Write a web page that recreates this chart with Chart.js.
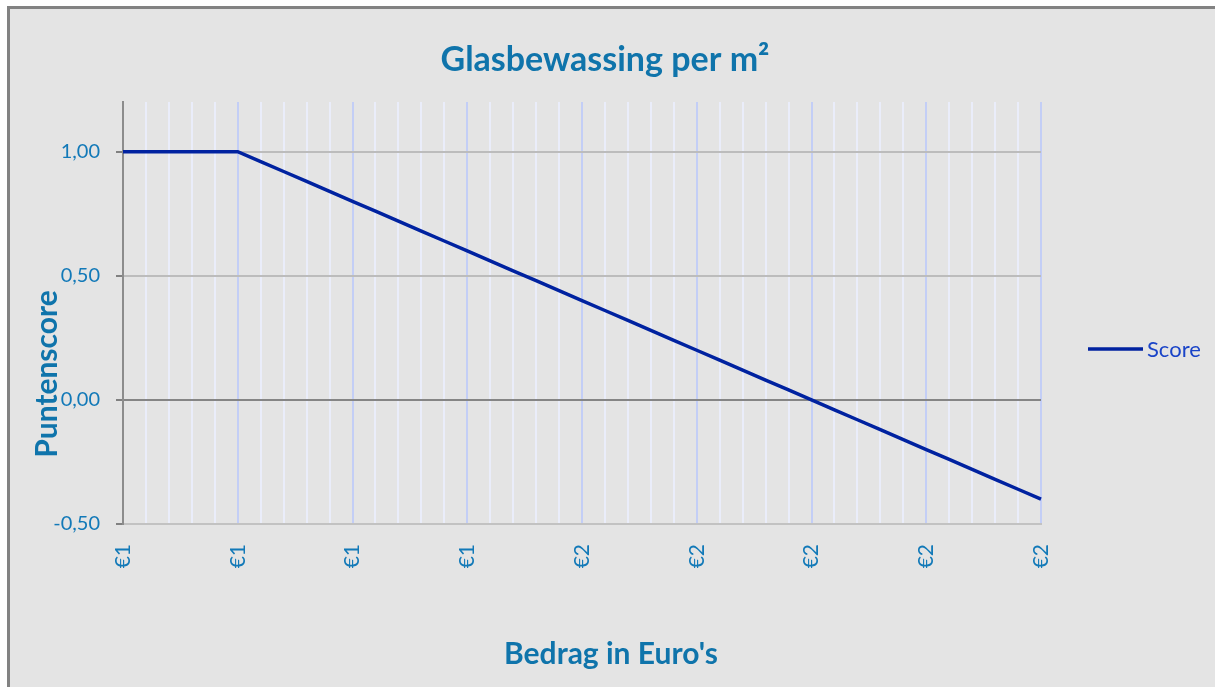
<!DOCTYPE html>
<html>
<head>
<meta charset="utf-8">
<script src="https://cdn.jsdelivr.net/npm/chart.js@4/dist/chart.umd.min.js"></script>
<style>
  html, body { margin: 0; padding: 0; background: #ffffff; }
  canvas { display: block; }
</style>
</head>
<body>
<canvas id="scoreChart" width="1215" height="687"></canvas>
<script>
// tick labels shown on the x-axis (every 5th category)
var tickLabels = ['€1', '€1', '€1', '€1', '€2', '€2', '€2', '€2', '€2'];
var stepsPerTick = 5;

// Score per category (41 points)
var scores = [
	1.00, 1.00, 1.00, 1.00, 1.00, 1.00, 0.96, 0.92, 0.88, 0.84,
	0.80, 0.76, 0.72, 0.68, 0.64, 0.60, 0.56, 0.52, 0.48, 0.44,
	0.40, 0.36, 0.32, 0.28, 0.24, 0.20, 0.16, 0.12, 0.08, 0.04,
	0.00, -0.04, -0.08, -0.12, -0.16, -0.20, -0.24, -0.28, -0.32, -0.36,
	-0.40
];

var seriesName = 'Score';
var chartTitle = 'Glasbewassing per m²';
var xTitle = "Bedrag in Euro's";
var yTitle = 'Puntenscore';

var labels = scores.map(function (v, i) {
	return i % stepsPerTick === 0 ? tickLabels[i / stepsPerTick] : '';
});

var fontFamily = 'Lato, "Open Sans", sans-serif';
var titleBlue = '#0f74ab';
var tickBlue = '#1279b8';
var lineBlue = '#0022a0';

// background, frame, titles and legend
var decor = {
	id: 'decor',
	beforeDraw: function (chart) {
		var ctx = chart.ctx;
		ctx.save();
		ctx.fillStyle = '#ffffff';
		ctx.fillRect(0, 0, chart.width, chart.height);
		ctx.fillStyle = '#828282';
		ctx.fillRect(7, 6, chart.width, chart.height);
		ctx.fillStyle = '#e4e4e4';
		ctx.fillRect(10, 9, chart.width, chart.height);
		ctx.restore();
	},
	afterDraw: function (chart) {
		var ctx = chart.ctx;
		var ds = chart.data.datasets[0];
		ctx.save();
		ctx.textAlign = 'center';
		ctx.textBaseline = 'middle';
		ctx.fillStyle = titleBlue;

		ctx.font = 'bold 34px ' + fontFamily;
		ctx.fillText(chartTitle, 605, 60);

		ctx.font = 'bold 30px ' + fontFamily;
		ctx.fillText(xTitle, 611, 654);

		ctx.translate(47, 374);
		ctx.rotate(-Math.PI / 2);
		ctx.fillText(yTitle, 0, 0);
		ctx.restore();

		// legend
		ctx.save();
		ctx.strokeStyle = ds.borderColor;
		ctx.lineWidth = ds.borderWidth;
		ctx.beginPath();
		ctx.moveTo(1088, 349);
		ctx.lineTo(1143, 349);
		ctx.stroke();
		ctx.fillStyle = '#1a44c8';
		ctx.font = '22px ' + fontFamily;
		ctx.textAlign = 'left';
		ctx.textBaseline = 'middle';
		ctx.fillText(ds.label, 1147, 350);
		ctx.restore();
	}
};

var data = {
	labels: labels,
	datasets: [
		{
			label: seriesName,
			data: scores,
			borderColor: lineBlue,
			backgroundColor: lineBlue,
			borderWidth: 3.5,
			pointRadius: 0,
			tension: 0,
			fill: false
		}
	]
};

var options = {
	responsive: false,
	animation: false,
	devicePixelRatio: 1,
	layout: { padding: { top: 102, right: 174, bottom: 0, left: 0 } },
	plugins: {
		legend: { display: false },
		title: { display: false },
		tooltip: { enabled: false }
	},
	scales: {
		x: {
			offset: false,
			afterFit: function (scale) { scale.height = 163; },
			grid: {
				drawTicks: false,
				lineWidth: 2,
				color: function (c) {
					return c.index % stepsPerTick === 0 ? '#c3cef6' : '#eaedfa';
				}
			},
			border: { display: true, color: '#c2c2c2', width: 2 },
			ticks: {
				autoSkip: false,
				minRotation: 90,
				maxRotation: 90,
				padding: 20,
				color: tickBlue,
				font: { family: fontFamily, size: 21 }
			}
		},
		y: {
			min: -0.5,
			max: 1.2,
			afterFit: function (scale) { scale.width = 123; },
			afterBuildTicks: function (scale) {
				scale.ticks = scale.ticks.filter(function (t) {
					return Math.abs(t.value - 1.2) > 1e-6;
				});
			},
			grid: {
				lineWidth: 2,
				tickLength: 7,
				tickColor: '#808080',
				color: function (c) {
					if (c.tick && Math.abs(c.tick.value) < 1e-6) return '#858585';
					return '#bcbcbc';
				}
			},
			border: { display: true, color: '#8c8c8c', width: 2 },
			ticks: {
				stepSize: 0.5,
				padding: 16,
				color: tickBlue,
				font: { family: fontFamily, size: 20 },
				callback: function (v) { return v.toFixed(2).replace('.', ','); }
			}
		}
	}
};

var scoreChart = new Chart(document.getElementById('scoreChart'), {
	type: 'line',
	data: data,
	options: options,
	plugins: [decor]
});
</script>
</body>
</html>
